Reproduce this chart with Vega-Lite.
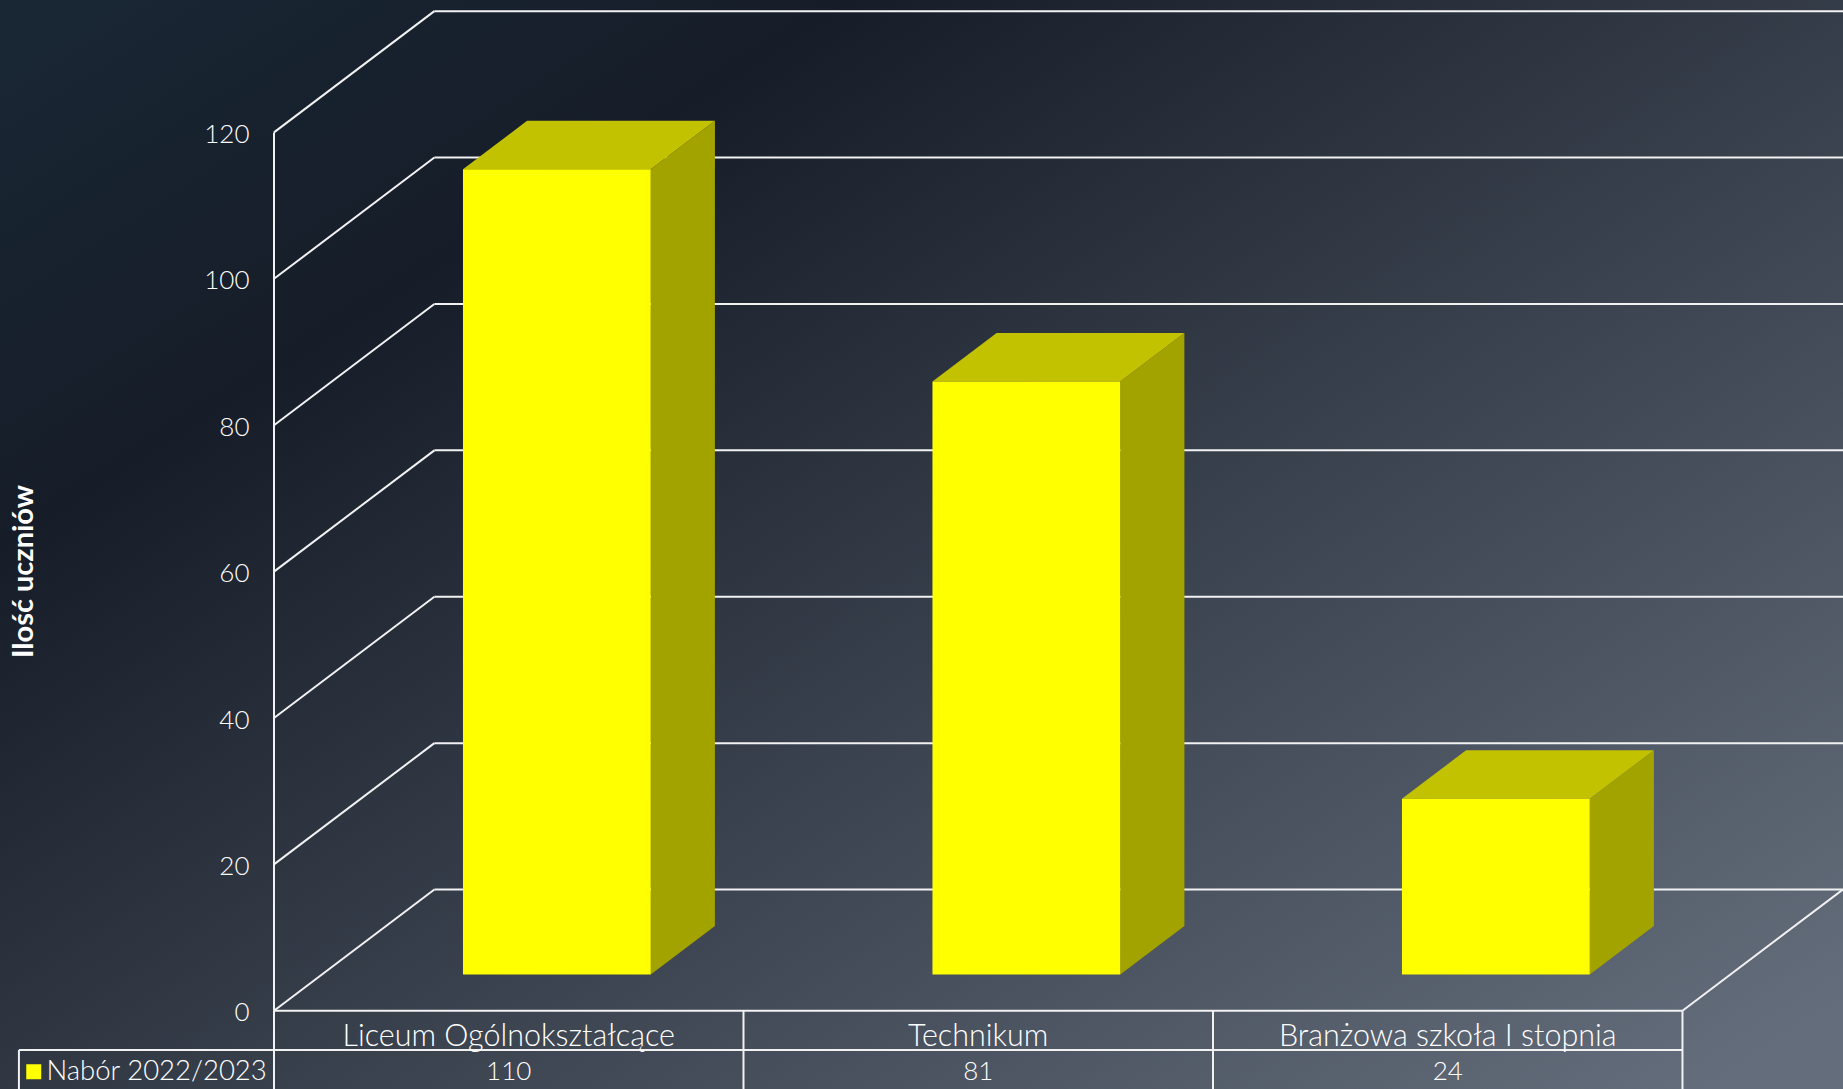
{"$schema":"https://vega.github.io/schema/vega-lite/v6.json","width":1843,"height":1089,"padding":0,"autosize":{"type":"none"},"background":"#2a3340","config":{"view":{"stroke":null},"font":"Lato"},"data":{"name":"frame"},"resolve":{"axis":{"x":"independent","y":"independent"}},"datasets":{"frame":[{"part":"chart frame"}],"bars":[{"category":"Liceum Ogólnokształcące","value":110,"series":"Nabór 2022/2023"},{"category":"Technikum","value":81,"series":"Nabór 2022/2023"},{"category":"Branżowa szkoła I stopnia","value":24,"series":"Nabór 2022/2023"}],"ticks":[{"value":0},{"value":20},{"value":40},{"value":60},{"value":80},{"value":100},{"value":120}]},"layer":[{"mark":{"type":"rect","color":{"gradient":"linear","x1":0,"y1":0,"x2":1,"y2":0.92,"stops":[{"offset":0,"color":"#192735"},{"offset":0.25,"color":"#161d28"},{"offset":1,"color":"#646d7b"}]}},"encoding":{"x":{"datum":-0.5836,"type":"quantitative","scale":{"domain":[-0.5836,3.3419],"nice":false,"zero":false},"axis":null},"x2":{"datum":3.3419},"y":{"datum":-10.68,"type":"quantitative","scale":{"domain":[-10.68,138.09],"nice":false,"zero":false},"axis":null},"y2":{"datum":138.09}}},{"data":{"name":"ticks"},"transform":[{"calculate":"datum.value+16.57","as":"back"}],"mark":{"type":"rule","color":"#f2f2f2","strokeWidth":2},"encoding":{"x":{"datum":0,"type":"quantitative","axis":null},"x2":{"datum":0.3416},"y":{"field":"value","type":"quantitative","title":"Ilość uczniów","axis":{"orient":"left","values":[0,20,40,60,80,100,120],"offset":-274,"zindex":1,"domain":false,"ticks":false,"grid":false,"labelPadding":25,"labelOffset":2,"labelFontSize":26,"labelColor":"#ffffff","labelFont":"Lato","labelFontWeight":300,"labelFlush":false,"labelOverlap":false,"titleColor":"#ffffff","titleFont":"Lato","titleFontSize":29,"titleFontWeight":"bold","titleX":-251,"titleY":571,"titleAlign":"center","titleBaseline":"middle"}},"y2":{"field":"back"}}},{"data":{"name":"ticks"},"transform":[{"calculate":"datum.value+16.57","as":"back"}],"mark":{"type":"rule","color":"#f2f2f2","strokeWidth":2},"encoding":{"x":{"datum":0.3416,"type":"quantitative","axis":null},"x2":{"datum":3.3419},"y":{"field":"back","type":"quantitative","axis":null}}},{"mark":{"type":"rule","color":"#f2f2f2","strokeWidth":2},"encoding":{"x":{"datum":0,"type":"quantitative","axis":null},"y":{"datum":0,"type":"quantitative","axis":null},"y2":{"datum":120}}},{"mark":{"type":"rule","color":"#f2f2f2","strokeWidth":2},"encoding":{"x":{"datum":0,"type":"quantitative","axis":null},"x2":{"datum":3},"y":{"datum":0,"type":"quantitative","axis":null}}},{"mark":{"type":"rule","color":"#f2f2f2","strokeWidth":2},"encoding":{"x":{"datum":3,"type":"quantitative","axis":null},"x2":{"datum":3.3416},"y":{"datum":0,"type":"quantitative","axis":null},"y2":{"datum":16.57}}},{"mark":{"type":"rule","color":"#f2f2f2","strokeWidth":2},"encoding":{"x":{"datum":-0.5433,"type":"quantitative","axis":null},"x2":{"datum":3},"y":{"datum":-5.36,"type":"quantitative","axis":null}}},{"mark":{"type":"rule","color":"#f2f2f2","strokeWidth":2},"encoding":{"x":{"datum":-0.5433,"type":"quantitative","axis":null},"y":{"datum":-5.36,"type":"quantitative","axis":null},"y2":{"datum":-10.68}}},{"mark":{"type":"rule","color":"#f2f2f2","strokeWidth":2},"encoding":{"x":{"datum":3,"type":"quantitative","axis":null},"y":{"datum":0,"type":"quantitative","axis":null},"y2":{"datum":-10.68}}},{"data":{"name":"bars"},"transform":[{"window":[{"op":"row_number","as":"n"}]},{"calculate":"datum.n-1","as":"i"}],"mark":{"type":"rule","color":"#f2f2f2","strokeWidth":2},"encoding":{"x":{"field":"i","type":"quantitative","axis":null},"y":{"datum":0,"type":"quantitative","axis":null},"y2":{"datum":-10.68}}},{"data":{"name":"bars"},"transform":[{"window":[{"op":"row_number","as":"n"}]},{"calculate":"[0.3,0.7]","as":"z"},{"flatten":["z"]},{"calculate":"datum.n-0.3+datum.z*0.3416","as":"xr"},{"calculate":"datum.value+datum.z*16.57","as":"yt"},{"calculate":"datum.z*16.57","as":"yb"}],"mark":{"type":"area","orient":"vertical","color":"#a3a300"},"encoding":{"x":{"field":"xr","type":"quantitative","axis":null},"y":{"field":"yt","type":"quantitative","axis":null},"y2":{"field":"yb"},"detail":{"field":"category"}}},{"data":{"name":"bars"},"transform":[{"window":[{"op":"row_number","as":"n"}]},{"calculate":"[0.3,0.7]","as":"z"},{"flatten":["z"]},{"calculate":"datum.n-0.7+datum.z*0.3416","as":"xl"},{"calculate":"datum.n-0.3+datum.z*0.3416","as":"xr"},{"calculate":"datum.value+datum.z*16.57","as":"yt"}],"mark":{"type":"area","orient":"horizontal","color":"#c2c200"},"encoding":{"y":{"field":"yt","type":"quantitative","axis":null},"x":{"field":"xl","type":"quantitative","axis":null},"x2":{"field":"xr"},"detail":{"field":"category"}}},{"data":{"name":"bars"},"transform":[{"window":[{"op":"row_number","as":"n"}]},{"calculate":"datum.n-1+0.4025","as":"xl"},{"calculate":"datum.n-1+0.8025","as":"xr"},{"calculate":"datum.value+4.97","as":"yt"},{"calculate":"4.97","as":"yb"}],"mark":{"type":"rect"},"encoding":{"x":{"field":"xl","type":"quantitative","axis":null},"x2":{"field":"xr"},"y":{"field":"yt","type":"quantitative","axis":null},"y2":{"field":"yb"},"color":{"field":"series","type":"nominal","scale":{"range":["#ffff00"]},"legend":{"orient":"none","legendX":20,"legendY":1058,"title":null,"symbolType":"square","symbolSize":225,"symbolStrokeWidth":0,"labelFont":"Lato","labelFontWeight":300,"labelFontSize":27.5,"labelLimit":400,"labelColor":"#ffffff","labelOffset":-1,"padding":0}}}},{"data":{"name":"bars"},"transform":[{"window":[{"op":"row_number","as":"n"}]},{"calculate":"datum.n-0.5","as":"xc"}],"mark":{"type":"text","color":"#ffffff","font":"Lato","fontWeight":300,"fontSize":30.5,"align":"center","baseline":"middle"},"encoding":{"x":{"field":"xc","type":"quantitative","axis":null},"y":{"datum":-3.55,"type":"quantitative","axis":null},"text":{"field":"category"}}},{"data":{"name":"bars"},"transform":[{"window":[{"op":"row_number","as":"n"}]},{"calculate":"datum.n-0.5","as":"xc"}],"mark":{"type":"text","color":"#ffffff","font":"Lato","fontWeight":300,"fontSize":26,"align":"center","baseline":"middle"},"encoding":{"x":{"field":"xc","type":"quantitative","axis":null},"y":{"datum":-8.35,"type":"quantitative","axis":null},"text":{"field":"value"}}}]}
